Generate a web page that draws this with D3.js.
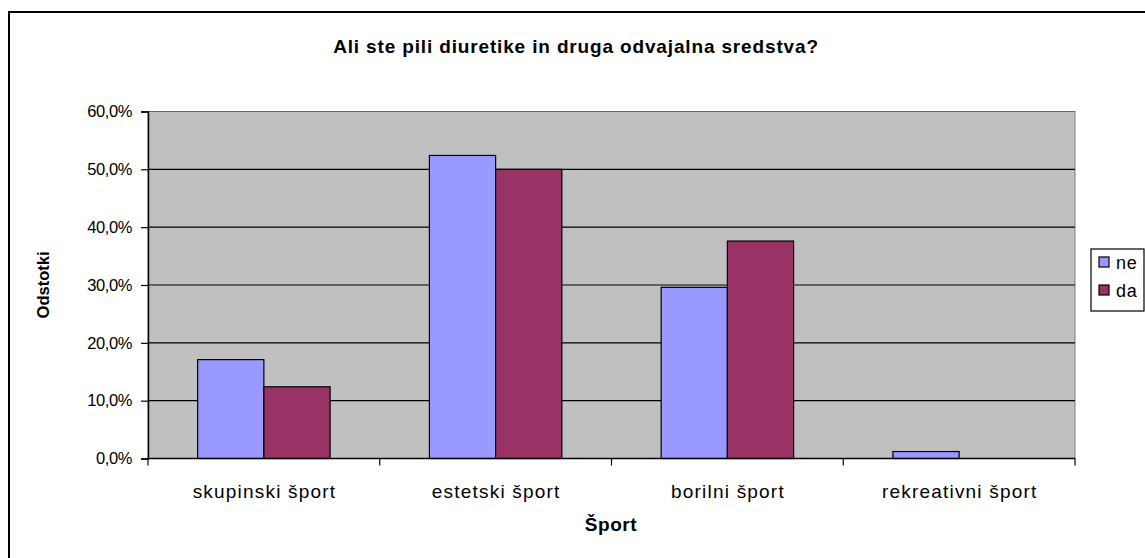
<!DOCTYPE html>
<html>
<head>
<meta charset="utf-8">
<script src="https://cdn.jsdelivr.net/npm/d3@7"></script>
<style>
  body { margin: 0; background: #fff; }
  svg { display: block; font-family: "Liberation Sans", Arial, sans-serif; }
</style>
</head>
<body>
<svg id="chart" width="1145" height="558"></svg>
<script>
// Survey answers by type of sport (share of respondents)
const categories = ["skupinski šport", "estetski šport", "borilni šport", "rekreativni šport"];
const seriesNames = ["ne", "da"];
const neValues = [17.1, 52.4, 29.6, 1.2];
const daValues = [12.4, 50.0, 37.6, 0.0];
const yTicks = [0, 10, 20, 30, 40, 50, 60];
const seriesColors = ["#9999ff", "#993366"];

const svg = d3.select("#chart");
const plot = { left: 148, right: 1075, top: 111.5, bottom: 458.5 };

// outer chart frame (extends past the visible area on the right and bottom)
svg.append("rect")
  .attr("x", 9).attr("y", 12)
  .attr("width", 1200).attr("height", 600)
  .attr("fill", "#fff").attr("stroke", "#000").attr("stroke-width", 2);

const x0 = d3.scaleBand().domain(categories).range([plot.left, plot.right]).paddingInner(0).paddingOuter(0);
const groupWidth = x0.bandwidth() * 2 / 3.5;
const x1 = d3.scaleBand().domain(seriesNames).range([0, groupWidth]).padding(0);
const y = d3.scaleLinear().domain([0, 60]).range([plot.bottom, plot.top]);

// plot background
svg.append("rect")
  .attr("x", plot.left).attr("y", plot.top)
  .attr("width", plot.right - plot.left).attr("height", plot.bottom - plot.top)
  .attr("fill", "#c0c0c0").attr("stroke", "#808080").attr("stroke-width", 1);

// horizontal gridlines
svg.append("g").selectAll("line")
  .data(yTicks.filter(t => t > 0))
  .join("line")
  .attr("x1", plot.left).attr("x2", plot.right)
  .attr("y1", d => y(d)).attr("y2", d => y(d))
  .attr("stroke", d => d === 60 ? "#6a6a6a" : "#000").attr("stroke-width", 1.2);

// bars
const rows = categories.map((c, i) => ({ cat: c, values: [neValues[i], daValues[i]] }));
const groups = svg.append("g").selectAll("g")
  .data(rows).join("g")
  .attr("transform", d => `translate(${x0(d.cat) + (x0.bandwidth() - groupWidth) / 2},0)`);
groups.selectAll("rect")
  .data(d => d.values.map((v, j) => ({ name: seriesNames[j], v, j })).filter(e => e.v > 0))
  .join("rect")
  .attr("x", d => x1(d.name))
  .attr("y", d => y(d.v))
  .attr("width", x1.bandwidth())
  .attr("height", d => y(0) - y(d.v))
  .attr("fill", d => seriesColors[d.j])
  .attr("stroke", "#000").attr("stroke-width", 1.2);

// y axis
const yAxis = d3.axisLeft(y).tickValues(yTicks)
  .tickFormat(d => d3.format(".1f")(d).replace(".", ",") + "%")
  .tickSize(7).tickPadding(9);
const gy = svg.append("g").attr("transform", `translate(${plot.left},0)`).call(yAxis);
gy.select(".domain").attr("stroke", "#000").attr("stroke-width", 1.5);
gy.selectAll(".tick line").attr("stroke", "#000").attr("stroke-width", 1.2);
gy.selectAll(".tick text").attr("font-size", 16.5).attr("fill", "#000")
  .attr("letter-spacing", "-0.4px")
  .attr("font-family", "Liberation Sans, Arial, sans-serif");

// x axis with ticks at category boundaries
const gx = svg.append("g").attr("transform", `translate(0,${plot.bottom})`);
gx.append("line").attr("x1", plot.left).attr("x2", plot.right)
  .attr("stroke", "#000").attr("stroke-width", 1.5);
const boundaries = categories.map(c => x0(c)).concat([plot.right]);
gx.selectAll(".bt").data(boundaries).join("line")
  .attr("class", "bt")
  .attr("x1", d => d).attr("x2", d => d).attr("y1", 0).attr("y2", 7)
  .attr("stroke", "#000").attr("stroke-width", 1.2);
gx.selectAll("text").data(categories).join("text")
  .attr("x", d => x0(d) + x0.bandwidth() / 2 + 0.6)
  .attr("y", 39)
  .attr("text-anchor", "middle")
  .attr("font-size", 19)
  .attr("letter-spacing", "1.2px")
  .text(d => d);

// titles
svg.append("text").attr("x", 576).attr("y", 53).attr("text-anchor", "middle")
  .attr("font-size", 19).attr("font-weight", "bold").attr("letter-spacing", "0.85px")
  .text("Ali ste pili diuretike in druga odvajalna sredstva?");
svg.append("text").attr("x", 611).attr("y", 531).attr("text-anchor", "middle")
  .attr("font-size", 19).attr("font-weight", "bold").attr("letter-spacing", "0.6px").text("Šport");
svg.append("text").attr("transform", "translate(49,285) rotate(-90)")
  .attr("text-anchor", "middle")
  .attr("font-size", 16.5).attr("font-weight", "bold").text("Odstotki");

// legend
const legend = svg.append("g");
legend.append("rect").attr("x", 1091).attr("y", 249).attr("width", 53).attr("height", 62)
  .attr("fill", "#fff").attr("stroke", "#000").attr("stroke-width", 1.2);
const li = legend.selectAll("g.item").data(seriesNames).join("g").attr("class", "item")
  .attr("transform", (d, i) => `translate(1099,${257 + i * 28})`);
li.append("rect").attr("width", 10).attr("height", 10)
  .attr("fill", (d, i) => seriesColors[i]).attr("stroke", "#000").attr("stroke-width", 1.2);
li.append("text").attr("x", 17).attr("y", 11.5).attr("font-size", 18)
  .attr("letter-spacing", "0.8px").text(d => d);
</script>
</body>
</html>
